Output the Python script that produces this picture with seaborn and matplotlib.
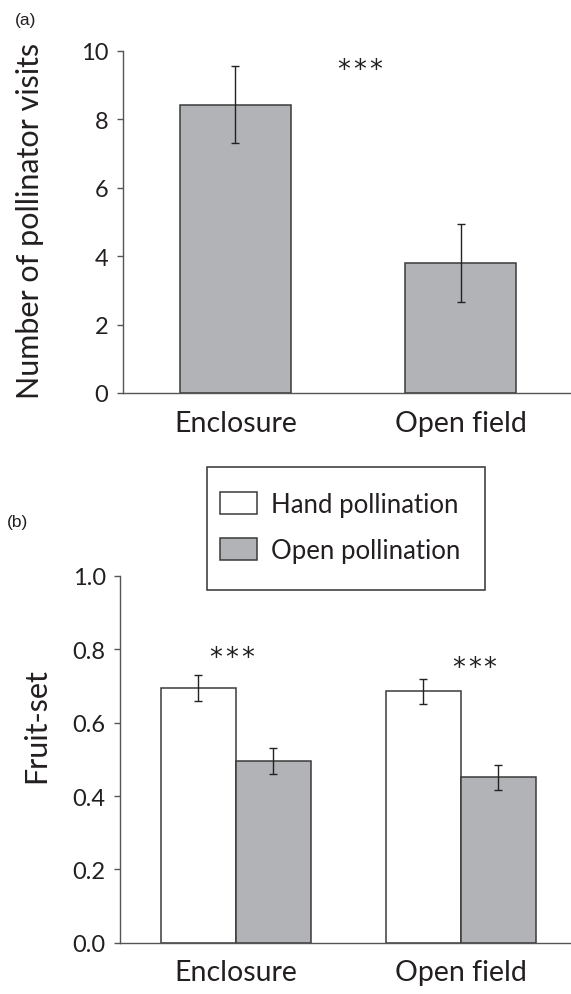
import numpy as np
import pandas as pd
import matplotlib
matplotlib.use("Agg")
import matplotlib.pyplot as plt
import seaborn as sns
from matplotlib.patches import Patch, Rectangle

# ---------------- data ----------------
sites = ["Enclosure", "Open field"]
visits_mean = [8.43, 3.80]
visits_se = [1.13, 1.13]

treatments = ["Hand pollination", "Open pollination"]
fruit_hand = [0.694, 0.686]
fruit_hand_se = [0.035, 0.034]
fruit_open = [0.496, 0.451]
fruit_open_se = [0.035, 0.034]

yticks_a = [0, 2, 4, 6, 8, 10]
yticks_b = [0.0, 0.2, 0.4, 0.6, 0.8, 1.0]
yticklabels_b = ["0.0", "0.2", "0.4", "0.6", "0.8", "1.0"]
sig_a = "***"
sig_b = ["***", "***"]

# ---------------- style ----------------
sns.set_theme(style="white")
plt.rcParams['font.family'] = ['Lato', 'DejaVu Sans']
TXT = "#231f20"
GRAY = "#b2b3b6"
EDGE = "#3a3a3a"
SPINE = "#555555"

W, H = 571, 995
fig = plt.figure(figsize=(W / 100, H / 100), dpi=100)


def rect(l, r, top, bottom):
    return [l / W, 1 - bottom / H, (r - l) / W, (bottom - top) / H]


ax1 = fig.add_axes(rect(122.7, 571, 52, 394))
ax2 = fig.add_axes(rect(120, 571, 577, 943.7))


def stars(ax, x, y, s):
    n = len(s)
    pitch = 11.4  # points between star centres
    for i, ch in enumerate(s):
        dx = (i - (n - 1) / 2) * pitch
        ax.annotate(ch, xy=(x, y), xytext=(dx, -11.0), textcoords="offset points",
                    ha="center", va="baseline", fontsize=18.5, color=TXT,
                    family=["DejaVu Sans"])


# ---------------- panel (a) ----------------
df1 = pd.DataFrame({"site": sites, "visits": visits_mean})
sns.barplot(data=df1, x="site", y="visits", color=GRAY, saturation=1,
            width=0.49, edgecolor=EDGE, linewidth=1.1, errorbar=None, ax=ax1)
bars1 = sorted(ax1.patches, key=lambda p: p.get_x())
for p, se in zip(bars1, visits_se):
    ax1.errorbar(p.get_x() + p.get_width() / 2, p.get_height(), yerr=se,
                 color="#222222", lw=1.0, capsize=3.2, capthick=1.0)
ax1.set_ylim(0, 10)
ax1.set_xlim(-0.5, 1.49)
ax1.set_yticks(yticks_a)
ax1.set_yticklabels([str(v) for v in yticks_a])
ax1.set_xlabel("")
ax1.set_ylabel("Number of pollinator visits", fontsize=22, color=TXT)
ax1.yaxis.set_label_coords(-0.1755, 0.506)
stars(ax1, 0.553, 9.70, sig_a)

# ---------------- panel (b) ----------------
df2 = pd.DataFrame({
    "site": sites + sites,
    "treatment": [treatments[0]] * 2 + [treatments[1]] * 2,
    "fruit": fruit_hand + fruit_open,
})
sns.barplot(data=df2, x="site", y="fruit", hue="treatment",
            palette=["white", GRAY], saturation=1, width=0.666,
            edgecolor=EDGE, linewidth=1.1, errorbar=None, legend=False, ax=ax2)
bars2 = sorted(ax2.patches, key=lambda p: p.get_x())
se2 = [fruit_hand_se[0], fruit_open_se[0], fruit_hand_se[1], fruit_open_se[1]]
for p, se in zip(bars2, se2):
    ax2.errorbar(p.get_x() + p.get_width() / 2, p.get_height(), yerr=se,
                 color="#222222", lw=1.0, capsize=3.2, capthick=1.0)
ax2.set_ylim(0, 1.0)
ax2.set_xlim(-0.515, 1.49)
ax2.set_yticks(yticks_b)
ax2.set_yticklabels(yticklabels_b)
ax2.set_xlabel("")
ax2.set_ylabel("Fruit-set", fontsize=22, color=TXT)
ax2.yaxis.set_label_coords(-0.155, 0.595)
stars(ax2, -0.02, 0.799, sig_b[0])
stars(ax2, 1.06, 0.772, sig_b[1])

for ax in (ax1, ax2):
    ax.set_facecolor("white")
    for s in ("top", "right"):
        ax.spines[s].set_visible(False)
    for s in ("left", "bottom"):
        ax.spines[s].set_color(SPINE)
        ax.spines[s].set_linewidth(1.0)
    ax.tick_params(axis="y", direction="out", left=True, length=4.3, width=1.0,
                   color=SPINE, pad=6, labelsize=17, labelcolor=TXT)
    ax.tick_params(axis="x", length=0, pad=12, labelsize=20.5, labelcolor=TXT)

# legend
handles = [Patch(facecolor="white", edgecolor=EDGE, linewidth=1.1),
           Patch(facecolor=GRAY, edgecolor=EDGE, linewidth=1.1)]
fig.legend(handles=handles, labels=treatments, loc="upper left",
           bbox_to_anchor=(220 / W, 1 - 492.5 / H), frameon=False, fontsize=18.5,
           handlelength=1.44, handleheight=0.97, handletextpad=0.55,
           labelspacing=0.82, borderpad=0, borderaxespad=0, labelcolor=TXT)
fig.add_artist(Rectangle((206.8 / W, 1 - 590.6 / H), (484.7 - 206.8) / W,
                         (590.6 - 467.5) / H, transform=fig.transFigure,
                         fill=False, edgecolor="#333333", linewidth=1.1))

# panel labels
fig.text(15 / W, 1 - 21 / H, "(a)", family=["Liberation Sans"], fontsize=12.5,
         va="center", ha="left", color=TXT)
fig.text(7 / W, 1 - 522 / H, "(b)", family=["Liberation Sans"], fontsize=12.5,
         va="center", ha="left", color=TXT)

fig.savefig("out.png", dpi=100, facecolor="white")
